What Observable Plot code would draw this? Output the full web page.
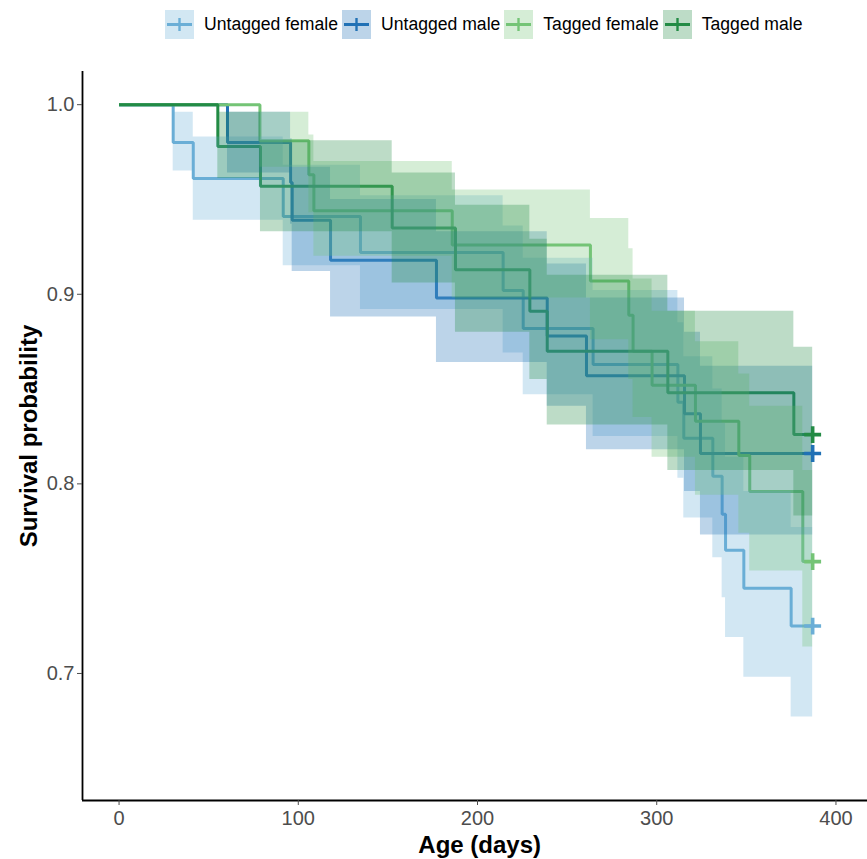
<!DOCTYPE html>
<html>
<head>
<meta charset="utf-8">
<script src="https://cdn.jsdelivr.net/npm/d3@7"></script>
<script src="https://cdn.jsdelivr.net/npm/@observablehq/plot@0.6"></script>
<style>
  html, body { margin: 0; padding: 0; background: #fff; }
  body { font-family: "Liberation Sans", Arial, Helvetica, sans-serif; }
  #wrap { position: relative; width: 867px; height: 859px; overflow: hidden; }
  #chart { position: absolute; left: 0; top: 0; }
  #legend { position: absolute; left: 165px; top: 10px; height: 29px; display: flex; align-items: center; z-index: 2; }
  .key { width: 29px; height: 29px; margin-right: 10px; display: block; }
  .lab { font-size: 17.6px; color: #000; margin-right: 4px; white-space: nowrap; line-height: 29px; }
</style>
</head>
<body>
<div id="wrap">
  <div id="chart"></div>
  <div id="legend"></div>
</div>
<script>
// ---- data ----
const groups = ["Untagged female", "Untagged male", "Tagged female", "Tagged male"];
const colors = ["#6baed6", "#2171b5", "#74c476", "#238b45"];

const ufTime  = [0, 30.2, 41.4, 91.6, 134.7, 214.3, 225.5, 264.5, 311.8, 315.1, 331.3, 336.5, 338.4, 348.6, 375.0, 387];
const ufSurv  = [1, 0.980, 0.961, 0.941, 0.922, 0.902, 0.882, 0.863, 0.843, 0.824, 0.804, 0.784, 0.765, 0.745, 0.725, 0.725];
const ufUpper = [1, 0.996, 0.983, 0.968, 0.952, 0.936, 0.919, 0.902, 0.885, 0.867, 0.850, 0.832, 0.814, 0.796, 0.777, 0.777];
const ufLower = [1, 0.965, 0.939, 0.915, 0.892, 0.869, 0.847, 0.825, 0.803, 0.782, 0.761, 0.740, 0.719, 0.698, 0.677, 0.677];

const umTime  = [0, 60.5, 95.7, 96.6, 118.0, 177.1, 238.9, 260.8, 315.5, 324.4, 387];
const umSurv  = [1, 0.980, 0.959, 0.939, 0.918, 0.898, 0.878, 0.857, 0.837, 0.816, 0.816];
const umUpper = [1, 0.996, 0.982, 0.967, 0.950, 0.933, 0.916, 0.898, 0.880, 0.862, 0.862];
const umLower = [1, 0.964, 0.937, 0.912, 0.888, 0.864, 0.841, 0.818, 0.796, 0.773, 0.773];

const tfTime  = [0, 78.6, 105.9, 108.7, 185.9, 263.0, 284.4, 286.8, 297.4, 321.6, 345.8, 351.9, 381.5, 387];
const tfSurv  = [1, 0.981, 0.963, 0.944, 0.926, 0.907, 0.889, 0.870, 0.852, 0.833, 0.815, 0.796, 0.759, 0.759];
const tfUpper = [1, 0.996, 0.984, 0.970, 0.955, 0.940, 0.924, 0.908, 0.891, 0.875, 0.858, 0.841, 0.807, 0.807];
const tfLower = [1, 0.967, 0.943, 0.920, 0.898, 0.876, 0.855, 0.835, 0.814, 0.794, 0.774, 0.754, 0.714, 0.714];

const tmTime  = [0, 55.1, 78.9, 152.4, 187.7, 229.2, 238.9, 306.2, 376.5, 387];
const tmSurv  = [1, 0.978, 0.957, 0.935, 0.913, 0.891, 0.870, 0.848, 0.826, 0.826];
const tmUpper = [1, 0.996, 0.981, 0.964, 0.947, 0.929, 0.910, 0.891, 0.872, 0.872];
const tmLower = [1, 0.961, 0.933, 0.906, 0.880, 0.855, 0.831, 0.807, 0.783, 0.783];

const xTicks = [0, 100, 200, 300, 400];
const yTicks = [0.7, 0.8, 0.9, 1.0];

// ---- build table ----
function rows(group, t, s, u, l) {
  return t.map((d, i) => ({group, time: d, surv: s[i], upper: u[i], lower: l[i]}));
}
const series = [
  rows(groups[0], ufTime, ufSurv, ufUpper, ufLower),
  rows(groups[1], umTime, umSurv, umUpper, umLower),
  rows(groups[2], tfTime, tfSurv, tfUpper, tfLower),
  rows(groups[3], tmTime, tmSurv, tmUpper, tmLower)
];
const data = series.flat();
const ends = series.map(s => s[s.length - 1]);

const xDomain = [-20.4, 417.6];
const yDomain = [0.633, 1.0175];
const font = "'Liberation Sans', Arial, Helvetica, sans-serif";

const chart = Plot.plot({
  width: 867,
  height: 859,
  marginLeft: 82,
  marginRight: 0,
  marginTop: 71,
  marginBottom: 59,
  style: {fontFamily: font, background: "#fff", overflow: "visible"},
  x: {domain: xDomain, axis: null},
  y: {domain: yDomain, axis: null},
  color: {domain: groups, range: colors},
  marks: [
    Plot.line(data, {x: "time", y: "surv", z: "group", stroke: "group", curve: "step-after", strokeWidth: 3, strokeLinejoin: "miter", strokeLinecap: "butt"}),
    Plot.areaY(data, {x: "time", y1: "lower", y2: "upper", z: "group", fill: "group", fillOpacity: 0.3, curve: "step-after"}),
    Plot.dot(ends, {x: "time", y: "surv", stroke: "group", symbol: "plus", r: 5.5, strokeWidth: 3.6}),
    Plot.ruleX([xDomain[0]], {stroke: "#000", strokeWidth: 1.8}),
    Plot.ruleY([yDomain[0]], {stroke: "#000", strokeWidth: 1.8}),
    Plot.axisY({ticks: yTicks, tickSize: 5, tickPadding: 3, tickFormat: d3.format(".1f"), fontSize: 20, color: "#4d4d4d", label: null}),
    Plot.axisX({ticks: xTicks, tickSize: 5, tickPadding: 5, fontSize: 20, color: "#4d4d4d", label: null}),
    Plot.text(["Survival probability"], {frameAnchor: "left", dx: -53, rotate: -90, fontSize: 24, fontWeight: "bold", fill: "#000", textAnchor: "middle", lineAnchor: "middle"}),
    Plot.text(["Age (days)"], {frameAnchor: "bottom", dx: 4.7, dy: 35, fontSize: 24, fontWeight: "bold", fill: "#000", textAnchor: "middle", lineAnchor: "top"})
  ]
});
document.getElementById("chart").appendChild(chart);

// ---- legend ----
const legend = document.getElementById("legend");
groups.forEach((g, i) => {
  const c = colors[i];
  const ns = "http://www.w3.org/2000/svg";
  const svg = document.createElementNS(ns, "svg");
  svg.setAttribute("class", "key");
  svg.setAttribute("width", 29);
  svg.setAttribute("height", 29);
  svg.innerHTML =
    `<rect x="0" y="0" width="29" height="29" fill="${c}" fill-opacity="0.3"></rect>` +
    `<line x1="2" y1="14.5" x2="27" y2="14.5" stroke="${c}" stroke-width="3"></line>` +
    `<line x1="14.5" y1="8" x2="14.5" y2="21" stroke="${c}" stroke-width="2.4"></line>`;
  legend.appendChild(svg);
  const span = document.createElement("span");
  span.className = "lab";
  span.textContent = g;
  legend.appendChild(span);
});
</script>
</body>
</html>
